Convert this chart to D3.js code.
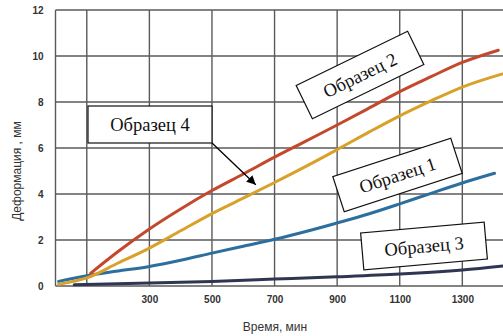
<!DOCTYPE html>
<html>
<head>
<meta charset="utf-8">
<script src="https://cdn.jsdelivr.net/npm/d3@7"></script>
<style>
  html, body { margin: 0; padding: 0; background: #fff; }
  svg { display: block; }
</style>
</head>
<body>
<svg id="chart" width="503" height="336"></svg>
<script>
// Deformation curves of four specimens over time (minutes -> mm)
const sample1 = [[10,0.2],[100,0.45],[200,0.65],[300,0.85],[400,1.12],[500,1.43],[600,1.73],[700,2.03],[800,2.37],[900,2.74],[1000,3.13],[1100,3.57],[1200,4.03],[1300,4.48],[1403,4.9]];
const sample2 = [[112,0.55],[200,1.5],[300,2.48],[400,3.35],[500,4.15],[600,4.87],[700,5.6],[800,6.3],[900,7.0],[1000,7.72],[1100,8.45],[1200,9.1],[1300,9.72],[1415,10.25]];
const sample3 = [[60,0.05],[300,0.13],[500,0.2],[700,0.3],[900,0.4],[1100,0.52],[1300,0.7],[1435,0.88]];
const sample4 = [[10,0.08],[100,0.35],[200,1.0],[300,1.65],[400,2.4],[500,3.15],[600,3.82],[700,4.5],[800,5.2],[900,5.93],[1000,6.68],[1100,7.4],[1200,8.05],[1300,8.65],[1435,9.25]];

const seriesNames = ["Образец 1", "Образец 2", "Образец 3", "Образец 4"];
const seriesColors = ["#2c6f9e", "#c4482c", "#2f3654", "#d8a22a"];

const xTicks = [300, 500, 700, 900, 1100, 1300];
const xGrid = [100, 300, 500, 700, 900, 1100, 1300];
const yTicks = [0, 2, 4, 6, 8, 10, 12];

const xTitle = "Время, мин";
const yTitle = "Деформация , мм";

const svg = d3.select("#chart");
const x = d3.scaleLinear().domain([0, 1430]).range([55.5, 503]);
const y = d3.scaleLinear().domain([0, 12]).range([286, 10]);

const gridColor = "#5a5a5a";

// grid
const grid = svg.append("g");
grid.selectAll("line.h").data(yTicks).join("line")
  .attr("x1", x(0)).attr("x2", 503)
  .attr("y1", d => y(d)).attr("y2", d => y(d))
  .attr("stroke", gridColor).attr("stroke-width", 1.4);
grid.selectAll("line.v").data(xGrid).join("line")
  .attr("x1", d => x(d)).attr("x2", d => x(d))
  .attr("y1", y(12)).attr("y2", y(0))
  .attr("stroke", gridColor).attr("stroke-width", 1.4);
grid.append("line")
  .attr("x1", x(0)).attr("x2", x(0))
  .attr("y1", y(12)).attr("y2", y(0))
  .attr("stroke", gridColor).attr("stroke-width", 1.4);

// y axis labels
const yAxis = svg.append("g")
  .attr("transform", `translate(${x(0)},0)`)
  .call(d3.axisLeft(y).tickValues(yTicks).tickSize(0).tickPadding(12).tickFormat(d3.format("d")));
yAxis.select(".domain").remove();
yAxis.selectAll("text")
  .attr("font-family", "'Liberation Sans', Arial, sans-serif")
  .attr("font-size", 10).attr("font-weight", "bold").attr("fill", "#333");

// x axis labels
const xAxis = svg.append("g")
  .attr("transform", `translate(0,${y(0)})`)
  .call(d3.axisBottom(x).tickValues(xTicks).tickSize(0).tickPadding(10).tickFormat(d3.format("d")));
xAxis.select(".domain").remove();
xAxis.selectAll("text")
  .attr("font-family", "'Liberation Sans', Arial, sans-serif")
  .attr("font-size", 10).attr("font-weight", "bold").attr("fill", "#333");

// axis titles
svg.append("text")
  .attr("x", 275).attr("y", 331)
  .attr("text-anchor", "middle")
  .attr("font-family", "'Liberation Sans', Arial, sans-serif")
  .attr("font-size", 12).attr("fill", "#333")
  .text(xTitle);
svg.append("text")
  .attr("transform", "translate(21,171) rotate(-90)")
  .attr("text-anchor", "middle")
  .attr("font-family", "'Liberation Sans', Arial, sans-serif")
  .attr("font-size", 12).attr("fill", "#333")
  .text(yTitle);

// curves
const line = d3.line().x(d => x(d[0])).y(d => y(d[1])).curve(d3.curveMonotoneX);
const allSeries = [sample1, sample2, sample3, sample4];
svg.append("g").selectAll("path").data(allSeries).join("path")
  .attr("d", line)
  .attr("fill", "none")
  .attr("stroke", (d, i) => seriesColors[i])
  .attr("stroke-width", 3)
  .attr("stroke-linecap", "round")
  .attr("stroke-linejoin", "round");

// callout boxes
const callouts = [
  { name: seriesNames[1], cx: 360, cy: 75, angle: -26 },
  { name: seriesNames[3], cx: 150, cy: 124.5, angle: 0 },
  { name: seriesNames[0], cx: 397.5, cy: 175, angle: -18 },
  { name: seriesNames[2], cx: 424, cy: 246, angle: -5 }
];
const boxW = 124, boxH = 37;
const cg = svg.append("g").selectAll("g").data(callouts).join("g")
  .attr("transform", d => `translate(${d.cx},${d.cy}) rotate(${d.angle})`);
cg.append("rect")
  .attr("x", -boxW / 2).attr("y", -boxH / 2)
  .attr("width", boxW).attr("height", boxH)
  .attr("fill", "#fff").attr("stroke", "#111").attr("stroke-width", 1.2);
cg.append("text")
  .attr("text-anchor", "middle").attr("dy", "0.35em")
  .attr("font-family", "'Liberation Serif', 'Times New Roman', serif")
  .attr("font-size", 18.5).attr("fill", "#111")
  .text(d => d.name);

// arrow from the "Образец 4" box to its curve
svg.append("defs").append("marker")
  .attr("id", "arrowhead")
  .attr("viewBox", "0 0 10 10").attr("refX", 10).attr("refY", 5)
  .attr("markerWidth", 9).attr("markerHeight", 9)
  .attr("markerUnits", "userSpaceOnUse")
  .attr("orient", "auto")
  .append("path").attr("d", "M0,0 L10,5 L0,10 Z").attr("fill", "#000");
const box4 = callouts[1];
svg.append("line")
  .attr("x1", box4.cx + boxW / 2).attr("y1", box4.cy + boxH / 2)
  .attr("x2", x(640)).attr("y2", y(4.4))
  .attr("stroke", "#000").attr("stroke-width", 1.3)
  .attr("marker-end", "url(#arrowhead)");
</script>
</body>
</html>
